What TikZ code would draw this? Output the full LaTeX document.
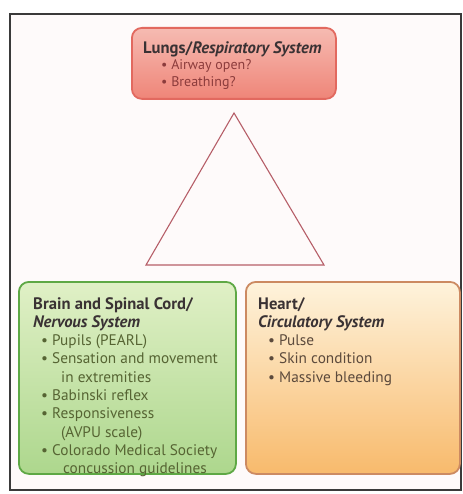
\documentclass[tikz,border=0pt]{standalone}
\usepackage{fontspec}
\setmainfont{PT Sans}

\definecolor{framegray}{HTML}{3A3A3A}
\definecolor{paper}{HTML}{FEFAFA}
\definecolor{lungtop}{HTML}{F6BBB2}
\definecolor{lungbot}{HTML}{EF8578}
\definecolor{lungedge}{HTML}{E2695F}
\definecolor{lungtext}{HTML}{8C3C3C}
\definecolor{braintop}{HTML}{E0F0C6}
\definecolor{brainbot}{HTML}{ADD78D}
\definecolor{brainedge}{HTML}{5EA845}
\definecolor{braintext}{HTML}{566433}
\definecolor{hearttop}{HTML}{FEF3DC}
\definecolor{heartbot}{HTML}{F8BA6C}
\definecolor{heartedge}{HTML}{CC8A62}
\definecolor{hearttext}{HTML}{5C4A3C}
\definecolor{titletext}{HTML}{3A3234}
\definecolor{triedge}{HTML}{B65E68}

\newcommand{\itm}{\textbullet\ }
\newcommand{\ttl}[1]{{\fontsize{16.6}{18.3}\selectfont\bfseries\color{titletext}#1}}

\begin{document}
\begin{tikzpicture}[x=1pt, y=-1pt, font=\fontsize{15.3}{18.3}\selectfont,
  organ/.style={draw, line width=1.8pt, rounded corners=10pt, inner sep=0pt, anchor=north west},
  notes/.style={anchor=north west, inner sep=0pt, align=left}]
  \useasboundingbox (0,0) rectangle (462,494);
  % page and frame
  \fill[white] (0,0) rectangle (462,494);
  \draw[framegray, line width=1.4pt, fill=paper] (10,14) rectangle (461,490);

  % lungs (top)
  \node[organ, draw=lungedge, top color=lungtop, bottom color=lungbot,
        minimum width=204pt, minimum height=71pt] (lungs) at (131,27) {};
  \node[notes, font=\fontsize{14}{16.5}\selectfont] (lungstext) at (143,41)
    {\ttl{Lungs/\itshape Respiratory System}\\
     \color{lungtext}\hspace*{18pt}\itm Airway open?\\
     \color{lungtext}\hspace*{18pt}\itm Breathing?};

  % triangle between the three systems
  \draw[triedge, line width=1.1pt, line join=miter] (234,113) -- (324,265) -- (146,265) -- cycle;

  % brain (bottom left)
  \node[organ, draw=brainedge, top color=braintop, bottom color=brainbot,
        minimum width=217pt, minimum height=192pt] (brain) at (18,281) {};
  \node[notes] (braintext) at (33,297)
    {\ttl{Brain and Spinal Cord/}\\
     \ttl{\itshape Nervous System}\\
     \color{braintext}\hspace*{8pt}\itm Pupils (PEARL)\\
     \color{braintext}\hspace*{8pt}\itm Sensation and movement\\
     \color{braintext}\hspace*{28pt}in extremities\\
     \color{braintext}\hspace*{8pt}\itm Babinski reflex\\
     \color{braintext}\hspace*{8pt}\itm Responsiveness\\
     \color{braintext}\hspace*{28pt}(AVPU scale)\\
     \color{braintext}\hspace*{8pt}\itm Colorado Medical Society\\
     \color{braintext}\hspace*{30pt}concussion guidelines};

  % heart (bottom right)
  \node[organ, draw=heartedge, top color=hearttop, bottom color=heartbot,
        minimum width=214pt, minimum height=192pt] (heart) at (245,281) {};
  \node[notes] (hearttext) at (258,297)
    {\ttl{Heart/}\\
     \ttl{\itshape Circulatory System}\\
     \color{hearttext}\hspace*{10pt}\itm Pulse\\
     \color{hearttext}\hspace*{10pt}\itm Skin condition\\
     \color{hearttext}\hspace*{10pt}\itm Massive bleeding};
\end{tikzpicture}
\end{document}
